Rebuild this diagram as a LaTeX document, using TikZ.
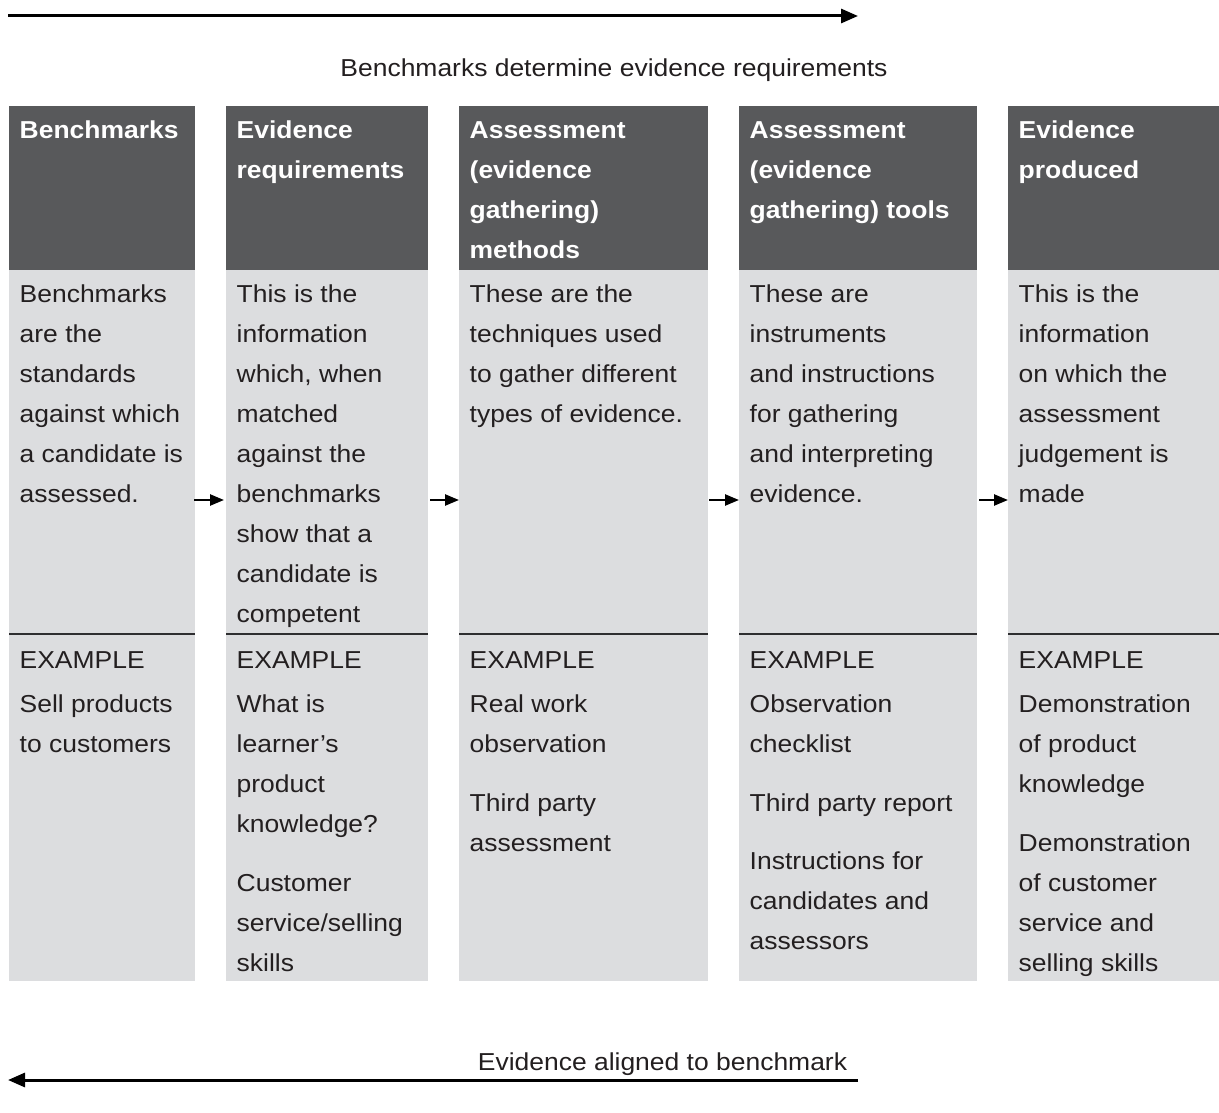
\documentclass[tikz,border=0pt]{standalone}
\usepackage{fontspec}
\setmainfont{Liberation Sans}[FakeStretch=1.08]
\usetikzlibrary{arrows.meta}
\definecolor{hdr}{HTML}{58595B}
\definecolor{bdy}{HTML}{DCDDDF}
\definecolor{txt}{HTML}{231F20}
\definecolor{rulec}{HTML}{2E2E30}
\begin{document}
\begin{tikzpicture}[x=1pt,y=-1pt,
  hdrbox/.style={fill=hdr, draw=none},
  bdybox/.style={fill=bdy, draw=none},
  divline/.style={draw=rulec, line width=1.5pt},
  bodytxt/.style={anchor=north west, inner sep=0pt, align=left, text=txt, font=\fontsize{24.5}{40}\selectfont},
  hdrtxt/.style={bodytxt, text=white, font=\fontsize{24.5}{40}\selectfont\bfseries},
  flowtxt/.style={anchor=base, inner sep=0pt, text=txt, font=\fontsize{24.5}{40}\selectfont},
  bigarrow/.style={draw=black, line width=3pt, -{Triangle[length=17pt,width=14pt]}},
  smallarrow/.style={draw=black, line width=2.4pt, -{Triangle[length=14pt,width=11pt]}}
]
\useasboundingbox[fill=white] (0,0) rectangle (1219,1113);

% columns
\foreach \l/\r [count=\i] in {9/195, 226/428, 459/708, 739/977, 1008/1219}{
  \fill[bdybox] (\l,270) rectangle (\r,981);
  \fill[hdrbox] (\l,106) rectangle (\r,270);
  \draw[divline] (\l,634) -- (\r,634);
}

% top and bottom flow
\coordinate (topL) at (8,16);
\coordinate (topR) at (858,16);
\draw[bigarrow] (topL) -- (topR);
\node[flowtxt] (toptxt) at (614,77) {Benchmarks determine evidence requirements};
\node[flowtxt] (bottxt) at (662.5,1070) {Evidence aligned to benchmark};
\coordinate (botR) at (858,1080);
\coordinate (botL) at (8,1080);
\draw[bigarrow] (botR) -- (botL);

% headers
\node[hdrtxt] (h1) at (19.5,110) {\strut Benchmarks};
\node[hdrtxt] (h2) at (236.5,110) {\strut Evidence\\requirements};
\node[hdrtxt] (h3) at (469.5,110) {\strut Assessment\\(evidence\\gathering)\\methods};
\node[hdrtxt] (h4) at (749.5,110) {\strut Assessment\\(evidence\\gathering) tools};
\node[hdrtxt] (h5) at (1018.5,110) {\strut Evidence\\produced};

% descriptions
\node[bodytxt] (d1) at (19.5,274) {\strut Benchmarks\\are the\\standards\\against which\\a candidate is\\assessed.};
\node[bodytxt] (d2) at (236.5,274) {\strut This is the\\information\\which, when\\matched\\against the\\benchmarks\\show that a\\candidate is\\competent};
\node[bodytxt] (d3) at (469.5,274) {\strut These are the\\techniques used\\to gather different\\types of evidence.};
\node[bodytxt] (d4) at (749.5,274) {\strut These are\\instruments\\and instructions\\for gathering\\and interpreting\\evidence.};
\node[bodytxt] (d5) at (1018.5,274) {\strut This is the\\information\\on which the\\assessment\\judgement is\\made};

% examples
\node[bodytxt] (e1) at (19.5,640) {\strut EXAMPLE};
\node[bodytxt] (e2) at (236.5,640) {\strut EXAMPLE};
\node[bodytxt] (e3) at (469.5,640) {\strut EXAMPLE};
\node[bodytxt] (e4) at (749.5,640) {\strut EXAMPLE};
\node[bodytxt] (e5) at (1018.5,640) {\strut EXAMPLE};

\node[bodytxt] (x1a) at (19.5,684) {\strut Sell products\\to customers};
\node[bodytxt] (x2a) at (236.5,684) {\strut What is\\learner’s\\product\\knowledge?};
\node[bodytxt] (x2b) at (236.5,863) {\strut Customer\\service/selling\\skills};
\node[bodytxt] (x3a) at (469.5,684) {\strut Real work\\observation};
\node[bodytxt] (x3b) at (469.5,783) {\strut Third party\\assessment};
\node[bodytxt] (x4a) at (749.5,684) {\strut Observation\\checklist};
\node[bodytxt] (x4b) at (749.5,783) {\strut Third party report};
\node[bodytxt] (x4c) at (749.5,841) {\strut Instructions for\\candidates and\\assessors};
\node[bodytxt] (x5a) at (1018.5,684) {\strut Demonstration\\of product\\knowledge};
\node[bodytxt] (x5b) at (1018.5,823) {\strut Demonstration\\of customer\\service and\\selling skills};

% small arrows between columns
\coordinate (a1s) at (194,500); \coordinate (a1e) at (224,500);
\coordinate (a2s) at (430,500); \coordinate (a2e) at (459,500);
\coordinate (a3s) at (709,500); \coordinate (a3e) at (739,500);
\coordinate (a4s) at (979,500); \coordinate (a4e) at (1008,500);
\draw[smallarrow] (a1s) -- (a1e);
\draw[smallarrow] (a2s) -- (a2e);
\draw[smallarrow] (a3s) -- (a3e);
\draw[smallarrow] (a4s) -- (a4e);
\end{tikzpicture}
\end{document}
